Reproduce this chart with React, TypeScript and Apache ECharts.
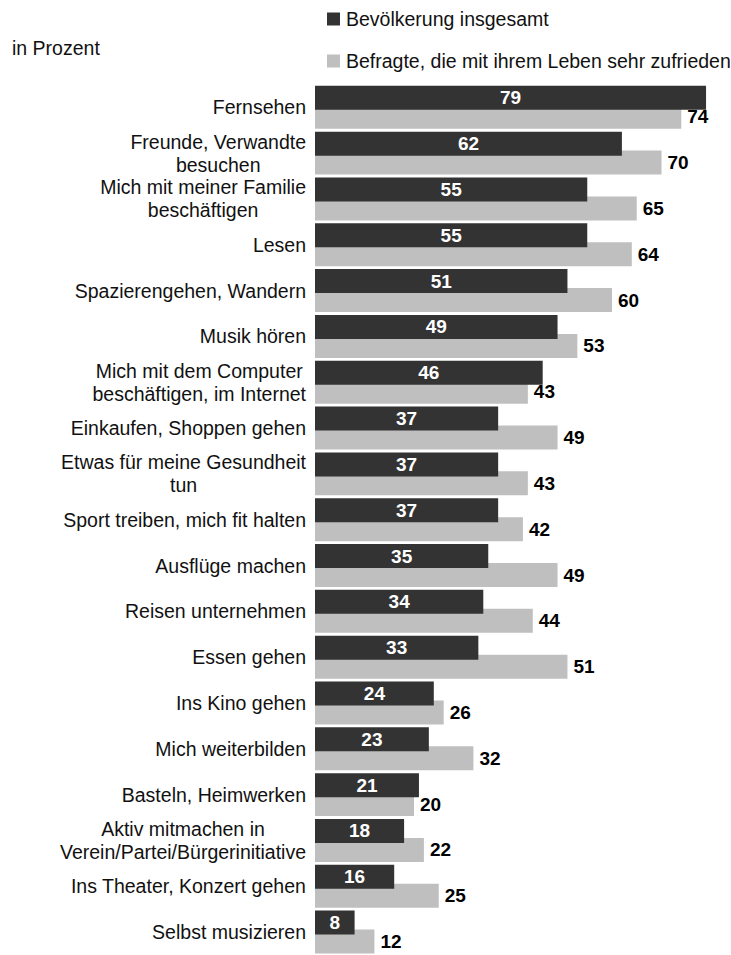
import React, { useEffect, useRef } from "react";
import * as echarts from "echarts";

const categories: string[] = [
  "Fernsehen",
  "Freunde, Verwandte\nbesuchen",
  "Mich mit meiner Familie\nbeschäftigen",
  "Lesen",
  "Spazierengehen, Wandern",
  "Musik hören",
  "Mich mit dem Computer\nbeschäftigen, im Internet",
  "Einkaufen, Shoppen gehen",
  "Etwas für meine Gesundheit\ntun",
  "Sport treiben, mich fit halten",
  "Ausflüge machen",
  "Reisen unternehmen",
  "Essen gehen",
  "Ins Kino gehen",
  "Mich weiterbilden",
  "Basteln, Heimwerken",
  "Aktiv mitmachen in\nVerein/Partei/Bürgerinitiative",
  "Ins Theater, Konzert gehen",
  "Selbst musizieren",
];

const seriesNames: string[] = [
  "Bevölkerung insgesamt",
  "Befragte, die mit ihrem Leben sehr zufrieden",
];

const bevoelkerung: number[] = [79, 62, 55, 55, 51, 49, 46, 37, 37, 37, 35, 34, 33, 24, 23, 21, 18, 16, 8];
const zufrieden: number[] = [74, 70, 65, 64, 60, 53, 43, 49, 43, 42, 49, 44, 51, 26, 32, 20, 22, 25, 12];

const unitLabel = "in Prozent";

const FONT = "'Liberation Sans', Arial, Helvetica, sans-serif";
const DARK = "#333333";
const LIGHT = "#bfbfbf";
const TEXT = "#111111";

export default function App() {
  const ref = useRef<HTMLDivElement>(null);

  useEffect(() => {
    if (!ref.current) return;
    const chart = echarts.init(ref.current, null, { renderer: "svg" });
    chart.setOption({
      animation: false,
      backgroundColor: "#ffffff",
      textStyle: { fontFamily: FONT },
      title: {
        text: unitLabel,
        left: 12,
        top: 38,
        padding: 0,
        textStyle: { fontFamily: FONT, fontSize: 19.5, fontWeight: "normal", color: TEXT, lineHeight: 20 },
      },
      legend: {
        orient: "vertical",
        left: 327,
        top: 9,
        padding: 0,
        itemGap: 22,
        itemWidth: 13,
        itemHeight: 13,
        icon: "rect",
        data: seriesNames,
        textStyle: { fontFamily: FONT, fontSize: 19.5, color: TEXT, lineHeight: 20, padding: [0, 0, 0, 1] },
      },
      grid: { left: 315, top: 84.4, width: 396, height: 878 },
      xAxis: {
        type: "value",
        min: 0,
        max: 80,
        show: false,
        splitLine: { show: false },
      },
      yAxis: {
        type: "category",
        data: categories,
        inverse: true,
        axisLine: { show: false },
        axisTick: { show: false },
        axisLabel: {
          margin: 9,
          align: "right",
          fontFamily: FONT,
          fontSize: 19.5,
          color: TEXT,
          lineHeight: 23,
          formatter: (v: string) => v.split("\n").map((l) => `{c|${l}}`).join("\n"),
          rich: {
            c: { align: "center", fontFamily: FONT, fontSize: 19.5, color: TEXT, lineHeight: 23 },
          },
        },
      },
      series: [
        {
          name: seriesNames[0],
          type: "bar",
          data: bevoelkerung,
          barWidth: 24,
          barGap: "-21%",
          z: 3,
          itemStyle: { color: DARK },
          label: {
            show: true,
            position: "inside",
            color: "#ffffff",
            fontFamily: FONT,
            fontSize: 19,
            fontWeight: "bold",
          },
        },
        {
          name: seriesNames[1],
          type: "bar",
          data: zufrieden,
          barWidth: 24,
          barGap: "-21%",
          z: 2,
          itemStyle: { color: LIGHT },
          label: {
            show: true,
            position: "right",
            distance: 6,
            color: "#000000",
            fontFamily: FONT,
            fontSize: 19,
            fontWeight: "bold",
          },
        },
      ],
    });
    return () => chart.dispose();
  }, []);

  return (
    <div
      ref={ref}
      style={{ position: "absolute", left: 0, top: 0, width: 731, height: 955, background: "#fff" }}
    />
  );
}
